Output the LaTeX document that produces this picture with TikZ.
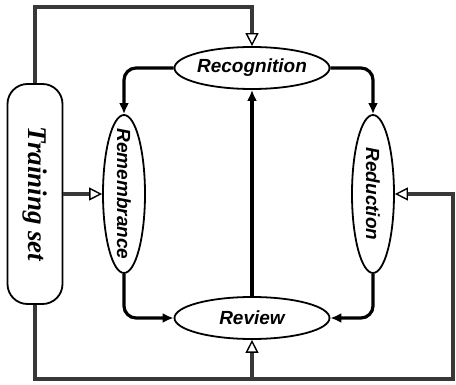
\documentclass[tikz,border=0pt]{standalone}
\usepackage{fontspec}
\setmainfont{Liberation Serif}
\setsansfont{Liberation Sans}
\usetikzlibrary{arrows.meta,positioning,calc,shapes.geometric}

\begin{document}
\begin{tikzpicture}[
  x=1pt, y=-1pt,
  >=Latex,
  stage/.style={draw, ellipse, line width=1.8pt, inner sep=0pt,
                minimum width=155pt, minimum height=42pt},
  vstage/.style={stage, minimum width=42pt, minimum height=158pt},
  stagetext/.style={font=\sffamily\bfseries\itshape\fontsize{19}{19}\selectfont, inner sep=0pt},
  setbox/.style={draw, rectangle, line width=1.8pt, rounded corners=20pt,
                 minimum width=55pt, minimum height=220pt},
  settext/.style={font=\rmfamily\bfseries\itshape\fontsize{27}{27}\selectfont, inner sep=0pt},
  loopflow/.style={line width=3.2pt, rounded corners=12pt, -{Latex[length=11pt,width=10pt]}},
  feed/.style={draw=black!78, line width=3.4pt},
  feedtip/.style={feed, -{Triangle[open, length=13pt, width=13pt, line width=1.4pt, color=black]}},
]
\useasboundingbox (0,0) rectangle (456,385);

% ---- the four stages ----
\node[stage] (recog) at (252,68) {};
\node[stagetext] (recog-t) at (recog) {Recognition};
\node[vstage] (remb) at (124,194) {};
\node[stagetext, rotate=-90] (remb-t) at (remb) {Remembrance};
\node[vstage] (reduc) at (373,194) {};
\node[stagetext, rotate=-90] (reduc-t) at (reduc) {Reduction};
\node[stage] (review) at (252,318) {};
\node[stagetext] (review-t) at (review) {Review};

% ---- training set ----
\node[setbox] (train) at (35,194) {};
\node[settext, rotate=-90] (train-t) at (train) {Training set};

% ---- the cycle ----
\draw[loopflow] (recog.west) -| (remb.north);
\draw[loopflow] (recog.east) -| (reduc.north);
\draw[loopflow] (remb.south) |- (review.west);
\draw[loopflow] (reduc.south) |- (review.east);
\draw[loopflow] (review.north) -- (recog.south);

% ---- feeding the training set ----
\coordinate (topR) at (252,7);
\coordinate (botR) at (453,379);
\draw[feedtip] (train.north) |- (topR) -- (recog.north);
\draw[feedtip] (train.east) -- (remb.west);
\draw[feedtip] (train.south) |- (botR) |- (reduc.east);
\draw[feedtip] (review.south |- botR) -- (review.south);
\end{tikzpicture}
\end{document}
